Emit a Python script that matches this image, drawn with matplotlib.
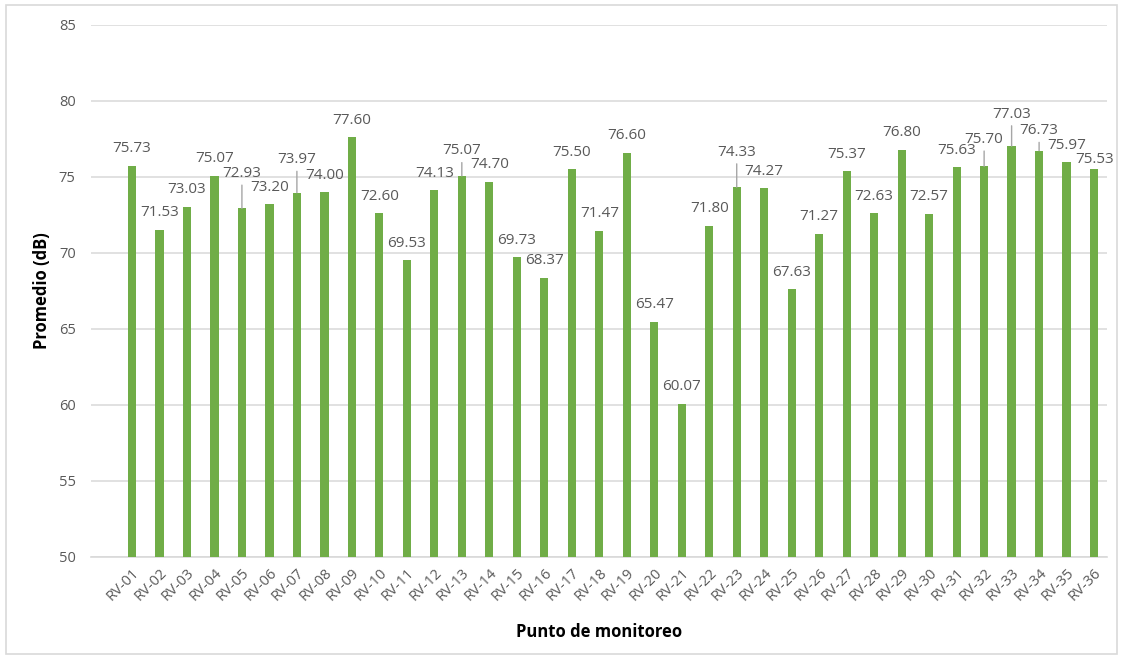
import matplotlib
matplotlib.use("Agg")
import matplotlib.pyplot as plt
from matplotlib.patches import Rectangle

# Average sound level per monitoring point
puntos = [f"RV-{i:02d}" for i in range(1, 37)]
promedio_db = [75.73, 71.53, 73.03, 75.07, 72.93, 73.20, 73.97, 74.00, 77.60,
               72.60, 69.53, 74.13, 75.07, 74.70, 69.73, 68.37, 75.50, 71.47,
               76.60, 65.47, 60.07, 71.80, 74.33, 74.27, 67.63, 71.27, 75.37,
               72.63, 76.80, 72.57, 75.63, 75.70, 77.03, 76.73, 75.97, 75.53]
y_ticks = [50, 55, 60, 65, 70, 75, 80, 85]

# Label placement: vertical offset (pixels above bar top), leader line flag
label_dy = {"RV-05": 35, "RV-07": 33, "RV-13": 25, "RV-23": 35,
            "RV-32": 27, "RV-33": 32, "RV-34": 20, "RV-36": 9}
with_leader = {"RV-05", "RV-07", "RV-13", "RV-23", "RV-32", "RV-33", "RV-34"}

plt.rcParams["font.family"] = ["Open Sans", "DejaVu Sans"]

GREEN = "#70AD47"
GRID = "#D9D9D9"
TXT = "#595959"

fig = plt.figure(figsize=(11.24, 6.60), dpi=100)
fig.patch.set_facecolor("white")
fig.patches.append(Rectangle((6 / 1124, 6 / 660), 1111 / 1124, 649 / 660,
                             transform=fig.transFigure, fill=False,
                             edgecolor=GRID, linewidth=1.2))

ax = fig.add_axes([91 / 1124, 103 / 660, 1016 / 1124, 532 / 660])
x = list(range(len(puntos)))
ax.bar(x, promedio_db, width=0.30, color=GREEN, zorder=3)

ax.set_ylim(50, 85)
ax.set_xlim(-1.49, 35.47)
ax.set_yticks(y_ticks)
ax.set_yticklabels([str(t) for t in y_ticks], color=TXT, fontsize=10.5)
ax.yaxis.grid(True, color=GRID, linewidth=1.1, zorder=0)
ax.set_axisbelow(True)
ax.tick_params(axis="y", length=0, pad=11)
ax.tick_params(axis="x", length=0, pad=6)
for side in ("top", "right", "left"):
    ax.spines[side].set_visible(False)
ax.spines["bottom"].set_color(GRID)
ax.spines["bottom"].set_linewidth(1.2)

ax.set_xticks(x)
ax.set_xticklabels(puntos, rotation=45, ha="right", rotation_mode="anchor",
                   color=TXT, fontsize=10.5)

for xi, name, v in zip(x, puntos, promedio_db):
    dy = label_dy.get(name, 17)
    kw = {}
    if name in with_leader:
        kw["arrowprops"] = dict(arrowstyle="-", color="#A6A6A6", lw=1.0,
                                shrinkA=1, shrinkB=0)
    ax.annotate(f"{v:.2f}", xy=(xi, v), xytext=(0, dy),
                textcoords="offset pixels", ha="center", va="center",
                fontsize=11, color=TXT, zorder=4, **kw)

ax.set_ylabel("Promedio (dB)", fontsize=12, fontweight="bold", color="black")
ax.set_xlabel("Punto de monitoreo", fontsize=12, fontweight="bold",
              color="black")
ax.yaxis.set_label_coords(-0.048, 0.5)
ax.xaxis.set_label_coords(0.5, -0.141)
ax.xaxis.label.set_va("center")
ax.yaxis.label.set_va("center")

fig.savefig("out.png", dpi=100)
